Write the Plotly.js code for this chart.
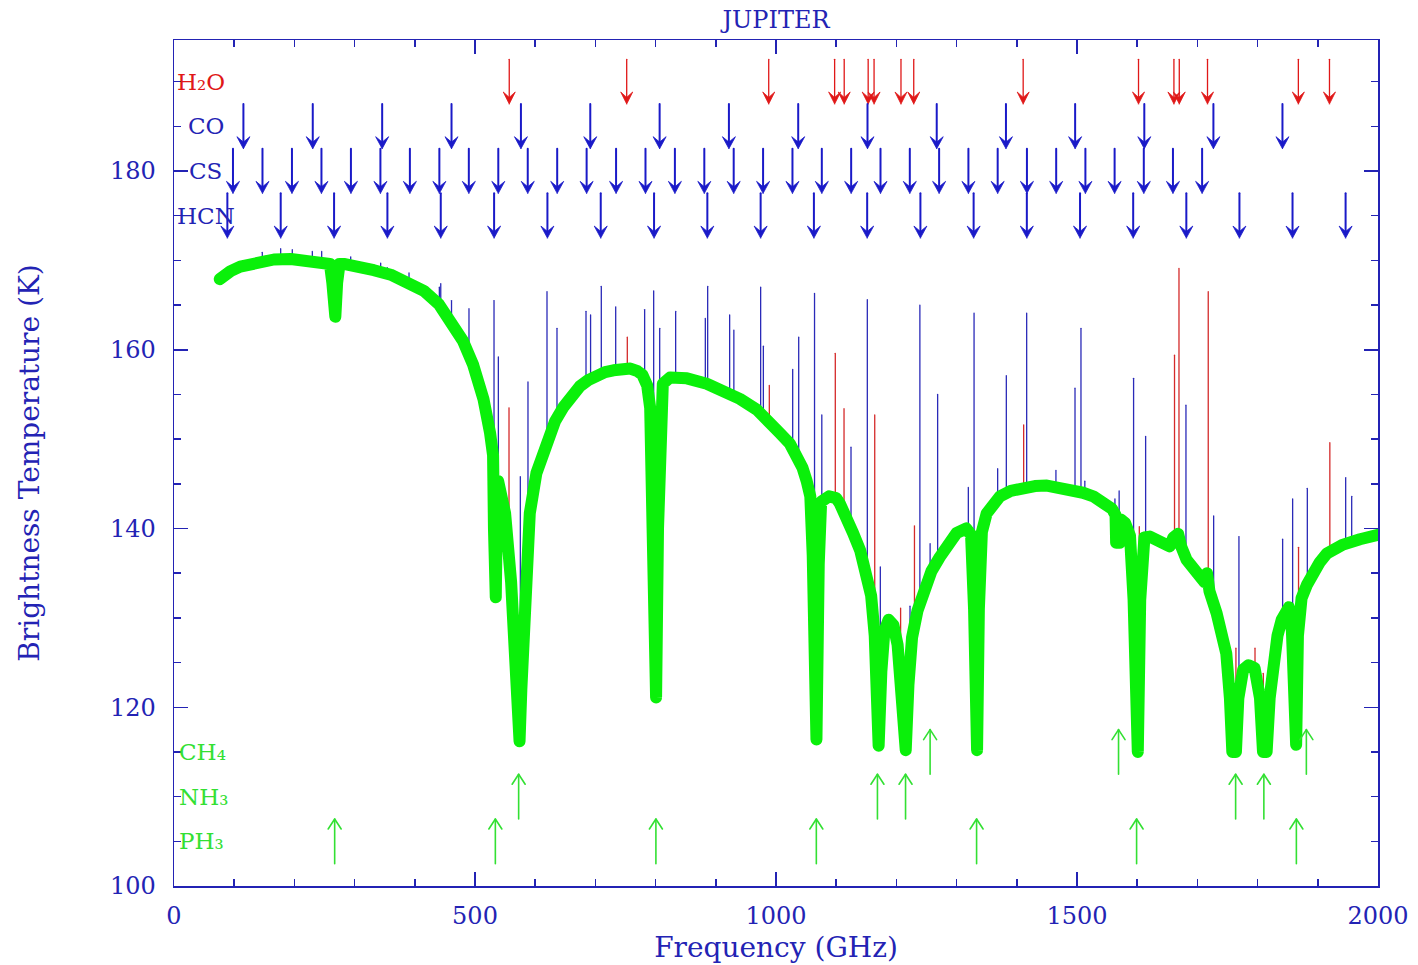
<!DOCTYPE html>
<html>
<head>
<meta charset="utf-8">
<script src="https://cdn.plot.ly/plotly-3.0.1.min.js"></script>
<style>
html,body{margin:0;padding:0;background:#fff;}
#chart{width:1418px;height:965px;}
#chart .scatterlayer .js-line{stroke-linejoin:round !important;stroke-linecap:round !important;}
</style>
</head>
<body>
<div id="chart"></div>
<script>
// ---- continuum (thick green), frequency in GHz and brightness temperature in K ----
const contFreq = [
  76,85,94,110,125,140,166,194,221,245,259,263,266,268,271,275,282,310,332,360,
  388,415,440,458,480,497,514,525,530,531.5,532.8,534.5,536,538.5,542,550,560,566,570,572.5,
  574,577,582,587,591,602,619,633,647,660,674,688,702,716,730,744,758,770,778,786,
  791,795,798.3,800.8,804,807,812,824,852,885,912,940,968,990,1006,1023,1035,1044,1051,1057,
  1061,1064.8,1067.2,1071,1075,1088,1100,1106,1115,1128,1140,1150,1158,1164,1168.3,1170.5,1175,1180,1187,1195,
  1202,1208,1212.8,1215.5,1220,1226,1235,1245,1258,1272,1288,1300,1316,1324,1329,1332,1334,1337,1342,1350,
  1360,1372,1390,1405,1430,1450,1470,1490,1510,1527,1545,1558,1564,1565,1571,1573,1580,1588,1594,1598,
  1601,1605,1612,1621,1640,1654,1660,1668,1673,1682,1700,1712,1716,1720,1732,1740,1748,1754,1758,1764,
  1768,1776,1785,1795,1804,1809,1815,1820,1826,1833,1840,1852,1857,1861,1864,1867,1873,1882,1892,1903,
  1915,1928,1942,1970,2000];
const contTemp = [
  167.9,168.4,168.8,169.3,169.6,169.9,170.1,170.15,170.0,169.8,169.6,167.5,163.7,163.7,167.5,169.6,169.6,169.3,168.9,168.4,
  167.6,166.6,165.1,163.5,161.0,158.3,154.5,150.7,148.2,140.0,132.3,132.3,140.0,145.3,144.2,141.7,134.0,127.0,121.0,116.2,
  116.2,122.0,130.0,137.0,141.7,146.2,149.9,152.0,153.6,154.9,155.9,156.6,157.2,157.5,157.7,157.9,157.9,157.6,157.2,156.0,
  153.5,140.0,121.1,121.1,140.0,153.5,156.2,156.9,156.8,156.2,155.5,154.5,153.3,152.0,150.7,149.5,148.3,146.8,145.3,143.6,
  137.0,116.4,116.4,136.0,143.0,143.6,143.4,142.8,141.6,139.5,137.5,135.0,132.5,128.0,115.7,115.7,124.0,128.5,129.8,129.2,
  127.0,122.0,115.2,115.2,122.5,127.8,130.8,133.1,135.2,136.8,138.4,139.5,140.0,139.3,131.0,115.2,115.2,131.0,139.6,141.7,
  142.8,143.6,144.2,144.5,144.75,144.8,144.6,144.4,144.0,143.6,143.0,142.2,141.5,138.4,138.4,141.0,140.6,139.2,132.0,115.0,
  115.0,132.0,139.0,139.1,138.6,138.0,139.0,139.4,138.0,136.5,135.0,134.0,135.0,133.0,130.5,128.5,126.0,121.0,115.0,115.0,
  121.0,124.2,124.7,124.4,121.0,115.0,115.0,121.0,125.3,128.0,129.8,131.2,128.5,115.8,115.8,128.0,132.2,133.7,135.0,136.2,
  137.2,137.8,138.2,138.8,139.3];

// ---- narrow emission lines (thin spikes): frequency, foot and peak temperature ----
const blueLineFreq = [146.7,177.2,196.5,229.8,245.3,293.5,343.3,354.4,390.4,440.8,443.1,461,490,531.6,538.8,575.3,588,619.6,636.2,684.4,692,709.8,733.7,781.8,796.8,806.8,833.3,882.6,886.5,923,930,974.5,979,1027.7,1037.7,1064,1076.1,1124.6,1151.7,1173.3,1222.6,1239,1256,1268.5,1319.5,1329,1368.2,1382.6,1416.4,1465,1496.7,1506.6,1513,1563,1570,1594,1614,1681,1727,1769,1841.6,1858.2,1882.6,1946.3,1956.3];
const blueLineBase = [170.0,170.0,170.0,169.9,169.8,169.4,168.7,168.4,167.4,165.0,164.9,163.8,160.5,147.0,145.0,118.0,137.0,149.8,151.8,156.4,156.8,157.3,157.7,156.8,135.0,145.0,156.9,156.2,156.2,155.3,155.1,153.1,152.9,149.3,148.3,130.0,143.0,140.0,134.7,120.0,122.0,131.5,135.2,136.6,139.8,125.0,143.2,143.9,144.6,144.7,144.3,144.1,143.9,141.5,139.0,130.0,139.0,136.6,130.0,121.0,129.8,128.0,133.7,138.2,138.4];
const blueLinePeak = [170.9,171.3,171.2,171.0,171.0,170.4,169.7,169.2,168.6,167.0,167.4,165.5,164.6,165.5,159.2,145.8,156.4,166.5,162.4,164.3,163.9,167.1,164.8,164.5,166.6,162.4,164.3,163.5,167.1,163.9,162.2,167.0,160.4,157.8,161.4,166.3,152.7,149.1,165.6,135.7,131.3,165.0,138.3,155.0,144.6,164.1,146.7,157.1,164.1,146.5,155.7,162.4,145.3,143.3,144.2,156.8,150.3,153.8,141.4,139.1,138.8,143.3,144.5,145.7,143.6];
const redLineFreq = [556.5,753,988.9,1098.5,1113,1164,1207,1230,1411.4,1603.5,1662,1669.4,1718,1764,1795.7,1809.5,1868,1920];
const redLineBase = [139.0,157.8,152.0,143.4,141.8,128.0,122.0,128.0,144.5,125.0,139.0,139.4,134.0,118.0,124.4,118.0,125.0,137.3];
const redLinePeak = [153.5,161.4,156.0,159.6,153.4,152.7,131.1,140.3,151.6,140.2,159.4,169.1,166.5,126.6,126.6,123.8,137.9,149.6];

// ---- line identification markers (GHz) ----
const h2oFreq = [556.9,752.0,987.9,1097.4,1113.3,1153.1,1162.9,1207.6,1228.8,1410.6,1602.2,1661.0,1669.9,1716.8,1867.7,1919.4];
const coFreq = [115.3,230.5,345.8,461.0,576.3,691.5,806.7,921.8,1036.9,1152.0,1267.0,1382.0,1496.9,1611.8,1726.6,1841.3];
const csFreq = [97.98,146.97,195.95,244.94,293.91,342.88,391.85,440.80,489.75,538.69,587.62,636.53,685.44,734.33,783.20,832.06,880.91,929.73,978.54,1027.34,1076.11,1124.85,1173.58,1222.28,1270.96,1319.61,1368.24,1416.84,1465.42,1513.96,1562.48,1610.96,1659.41,1707.83];
const hcnFreq = [88.63,177.26,265.89,354.50,443.12,531.72,620.30,708.87,797.43,885.97,974.49,1062.98,1151.44,1239.88,1328.29,1416.68,1505.03,1593.33,1681.61,1769.84,1858.03,1946.18];
const ch4Freq = [1256,1569,1881];
const nh3Freq = [572.5,1168.5,1215.2,1763.5,1810.4];
const ph3Freq = [266.9,533.8,800.5,1067.0,1333.2,1599.0,1864.4];

const molNames = ['H₂O','CO','CS','HCN','CH₄','NH₃','PH₃'];
const molLevels = [190,185,180,175,115,110,105];

const xTickVals = [0,500,1000,1500,2000];
const yTickVals = [100,120,140,160,180];

// ---- styles / geometry ----
const W = 1418, H = 965;
const M = {l: 174, r: 40, t: 40, b: 79};
const X_RANGE = [0, 2000], Y_RANGE = [100, 194.66];
const plotW = W - M.l - M.r, plotH = H - M.t - M.b;
const dxPerPx = (X_RANGE[1] - X_RANGE[0]) / plotW;
const dyPerPx = (Y_RANGE[1] - Y_RANGE[0]) / plotH;
const ARROW_HALF = 2.5; // arrows span level +/- this many K

const BLUE = '#2323b4';
const ARROW_BLUE = '#1a1ac8';
const RED = '#e01818';
const GREEN = '#33e033';
const CURVE_GREEN = '#0af00a';
const FONT = 'DejaVu Serif, Liberation Serif, serif';

function spikes(freq, base, peak) {
  const x = [], y = [];
  freq.forEach((f, i) => { x.push(f, f, null); y.push(base[i], peak[i], null); });
  return {x, y};
}

// down arrows: shaft + filled barbed head
function downArrows(freqs, level, color, lw, hwPx, hhPx) {
  const top = level + ARROW_HALF, tip = level - ARROW_HALF;
  const hw = hwPx * dxPerPx, hh = hhPx * dyPerPx;
  const sx = [], sy = [], hx = [], hy = [];
  freqs.forEach(f => {
    sx.push(f, f, null); sy.push(top, tip + hh * 0.5, null);
    hx.push(f, f - hw, f, f + hw, f, null);
    hy.push(tip, tip + hh, tip + hh * 0.55, tip + hh, tip, null);
  });
  return [
    {x: sx, y: sy, mode: 'lines', line: {color: color, width: lw}, hoverinfo: 'skip', showlegend: false},
    {x: hx, y: hy, mode: 'lines', fill: 'toself', fillcolor: color, line: {color: color, width: 0.8}, hoverinfo: 'skip', showlegend: false}
  ];
}
// up arrows: shaft + open V head
function upArrows(freqs, level, color, lw, hwPx, hhPx) {
  const bottom = level - ARROW_HALF, tip = level + ARROW_HALF;
  const hw = hwPx * dxPerPx, hh = hhPx * dyPerPx;
  const x = [], y = [];
  freqs.forEach(f => {
    x.push(f, f, null, f - hw, f, f + hw, null);
    y.push(bottom, tip, null, tip - hh, tip, tip - hh, null);
  });
  return [{x: x, y: y, mode: 'lines', line: {color: color, width: lw}, hoverinfo: 'skip', showlegend: false}];
}

const bs = spikes(blueLineFreq, blueLineBase, blueLinePeak);
const rs = spikes(redLineFreq, redLineBase, redLinePeak);

const traces = [
  {x: bs.x, y: bs.y, mode: 'lines', line: {color: '#2a2ab8', width: 1.3}, hoverinfo: 'skip', showlegend: false},
  {x: rs.x, y: rs.y, mode: 'lines', line: {color: '#d42a2a', width: 1.3}, hoverinfo: 'skip', showlegend: false},
  {x: contFreq, y: contTemp, mode: 'lines', line: {color: CURVE_GREEN, width: 12}, hoverinfo: 'skip', showlegend: false}
].concat(
  downArrows(h2oFreq, molLevels[0], RED, 1.3, 6, 12),
  downArrows(coFreq, molLevels[1], ARROW_BLUE, 2, 6.5, 12),
  downArrows(csFreq, molLevels[2], ARROW_BLUE, 2, 6.5, 12),
  downArrows(hcnFreq, molLevels[3], ARROW_BLUE, 2, 6.5, 12),
  upArrows(ch4Freq, molLevels[4], GREEN, 1.6, 6.5, 10),
  upArrows(nh3Freq, molLevels[5], GREEN, 1.6, 6.5, 10),
  upArrows(ph3Freq, molLevels[6], GREEN, 1.6, 6.5, 10)
);

const labelColors = [RED, BLUE, BLUE, BLUE, GREEN, GREEN, GREEN];
const labelX = [0.0015, 0.0105, 0.0115, 0.0015, 0.003, 0.003, 0.003];
const annotations = molNames.map((n, i) => ({
  x: labelX[i], xref: 'paper', y: molLevels[i], yref: 'y',
  xanchor: 'left', yanchor: 'middle', text: n, showarrow: false,
  font: {family: FONT, size: 23, color: labelColors[i]}, borderpad: 0
}));

const axisCommon = {
  showline: true, linecolor: BLUE, linewidth: 1.5, mirror: 'ticks',
  ticks: 'inside', tickcolor: BLUE, tickwidth: 1.5, ticklen: 14,
  showgrid: false, zeroline: false,
  tickfont: {family: FONT, size: 24, color: BLUE}
};

const layout = {
  width: W, height: H,
  margin: M,
  paper_bgcolor: '#ffffff', plot_bgcolor: '#ffffff',
  showlegend: false,
  title: {text: 'JUPITER', font: {family: FONT, size: 24, color: BLUE},
          x: 0.5, xref: 'paper', xanchor: 'center', y: 1 - 20 / H, yref: 'container', yanchor: 'middle'},
  annotations: annotations,
  xaxis: Object.assign({}, axisCommon, {
    range: X_RANGE, tickmode: 'array', tickvals: xTickVals, ticktext: xTickVals.map(String),
    ticklabelstandoff: 8,
    minor: {dtick: 100, tick0: 0, ticks: 'inside', ticklen: 7, tickcolor: BLUE, tickwidth: 1.5, showgrid: false},
    title: {text: 'Frequency (GHz)', font: {family: FONT, size: 28, color: BLUE}, standoff: 8}
  }),
  yaxis: Object.assign({}, axisCommon, {
    range: Y_RANGE, tickmode: 'array', tickvals: yTickVals, ticktext: yTickVals.map(String),
    ticklabelstandoff: 12,
    minor: {dtick: 5, tick0: 100, ticks: 'inside', ticklen: 7, tickcolor: BLUE, tickwidth: 1.5, showgrid: false},
    title: {text: 'Brightness Temperature (K)', font: {family: FONT, size: 28, color: BLUE}, standoff: 62}
  })
};

Plotly.newPlot('chart', traces, layout, {staticPlot: true, displayModeBar: false});
</script>
</body>
</html>
